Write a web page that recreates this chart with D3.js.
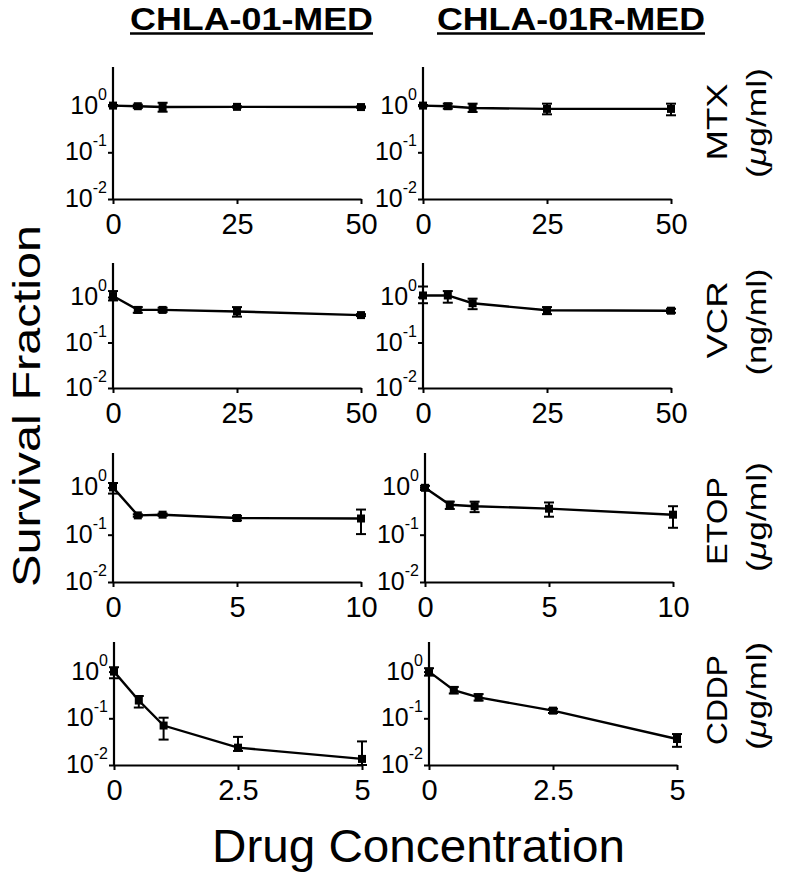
<!DOCTYPE html>
<html>
<head>
<meta charset="utf-8">
<script src="https://cdn.jsdelivr.net/npm/d3@7/dist/d3.min.js"></script>
<style>
  body { margin: 0; background: #fff; }
  text { font-family: "Liberation Sans", Arial, Helvetica, sans-serif; fill: #000; }
</style>
</head>
<body>
<svg id="chart" width="788" height="878"></svg>
<script>
// columns = cell lines, rows = drugs
const cellLines = ["CHLA-01-MED", "CHLA-01R-MED"];
const drugs = ["MTX", "VCR", "ETOP", "CDDP"];
const units = ["μg/ml", "ng/ml", "μg/ml", "μg/ml"];

// doses and x tick labels per drug
const mtxDose = [0, 5, 10, 25, 50];
const vcrDose = [0, 5, 10, 25, 50];
const etopDose = [0, 1, 2, 5, 10];
const cddpDose = [0, 0.5, 1, 2.5, 5];
const mtxTicks = [0, 25, 50];
const vcrTicks = [0, 25, 50];
const etopTicks = [0, 5, 10];
const cddpTicks = [0, 2.5, 5];
const yTicks = [1, 0.1, 0.01];

// survival fraction (mean, lower and upper end of error bar)
const mtxParent = [1.0, 0.97, 0.93, 0.94, 0.93];
const mtxParentLo = [0.97, 0.89, 0.74, 0.91, 0.9];
const mtxParentHi = [1.03, 1.05, 1.15, 0.97, 0.96];
const mtxRes = [1.0, 0.97, 0.89, 0.85, 0.85];
const mtxResLo = [0.97, 0.86, 0.73, 0.65, 0.62];
const mtxResHi = [1.03, 1.1, 1.1, 1.1, 1.1];

const vcrParent = [1.05, 0.52, 0.52, 0.48, 0.4];
const vcrParentLo = [0.84, 0.45, 0.47, 0.37, 0.38];
const vcrParentHi = [1.35, 0.6, 0.58, 0.6, 0.42];
const vcrRes = [1.08, 1.08, 0.73, 0.51, 0.5];
const vcrResLo = [0.73, 0.75, 0.54, 0.42, 0.45];
const vcrResHi = [1.7, 1.35, 0.92, 0.6, 0.55];

const etopParent = [1.0, 0.256, 0.265, 0.225, 0.22];
const etopParentLo = [0.74, 0.24, 0.25, 0.2, 0.103];
const etopParentHi = [1.24, 0.27, 0.28, 0.25, 0.34];
const etopRes = [0.98, 0.43, 0.4, 0.355, 0.265];
const etopResLo = [0.88, 0.35, 0.3, 0.24, 0.14];
const etopResHi = [1.08, 0.5, 0.5, 0.48, 0.4];

const cddpParent = [1.0, 0.24, 0.07, 0.0235, 0.0135];
const cddpParentLo = [0.72, 0.17, 0.035, 0.02, 0.01];
const cddpParentHi = [1.24, 0.3, 0.103, 0.04, 0.032];
const cddpRes = [1.0, 0.4, 0.28, 0.146, 0.036];
const cddpResLo = [0.82, 0.34, 0.24, 0.13, 0.0245];
const cddpResHi = [1.18, 0.47, 0.33, 0.16, 0.046];

// layout
const rowAxisY = [199, 388, 582, 765];
const rowTop = [67, 263, 453, 642];
const rowDecade = [46.7, 45.5, 47.3, 46.7];
const colX0 = [[113, 423], [113, 423], [113, 425], [114, 429]];
const plotW = 248;
const drugLabelY = [122, 320, 521, 700];
const drugLabelLen = [77, 77, 88, 90];
const unitLabelY = [123, 322, 517, 696];
const unitLabelLen = [110, 107, 110, 108];

const panels = [
  {dose: mtxDose, ticks: mtxTicks, series: [[mtxParent, mtxParentLo, mtxParentHi], [mtxRes, mtxResLo, mtxResHi]]},
  {dose: vcrDose, ticks: vcrTicks, series: [[vcrParent, vcrParentLo, vcrParentHi], [vcrRes, vcrResLo, vcrResHi]]},
  {dose: etopDose, ticks: etopTicks, series: [[etopParent, etopParentLo, etopParentHi], [etopRes, etopResLo, etopResHi]]},
  {dose: cddpDose, ticks: cddpTicks, series: [[cddpParent, cddpParentLo, cddpParentHi], [cddpRes, cddpResLo, cddpResHi]]}
];

const svg = d3.select("#chart");

function drawPanel(r, c) {
  const p = panels[r];
  const [mean, lo, hi] = p.series[c];
  const axisY = rowAxisY[r];
  const x0 = colX0[r][c];

  const x = d3.scaleLinear()
      .domain([0, d3.max(p.ticks)])
      .range([x0, x0 + plotW]);
  const y = d3.scaleLog()
      .domain([0.01, 1])
      .range([axisY, axisY - 2 * rowDecade[r]]);

  const g = svg.append("g");

  // y axis
  const yAxis = g.append("g")
      .attr("transform", "translate(" + x0 + ",0)")
      .call(d3.axisLeft(y).tickValues(yTicks).tickSize(5).tickSizeOuter(0).tickFormat(""));
  yAxis.select(".domain").remove();
  yAxis.selectAll(".tick line").attr("stroke-width", 2);
  g.append("line")
      .attr("x1", x0).attr("x2", x0)
      .attr("y1", rowTop[r]).attr("y2", axisY + 1)
      .attr("stroke", "#000").attr("stroke-width", 2.2);

  yTicks.forEach(v => {
    const t = g.append("text")
        .attr("x", x0 - 6)
        .attr("y", y(v) + 8)
        .attr("text-anchor", "end")
        .attr("font-size", 25);
    t.append("tspan").text("10");
    t.append("tspan")
        .attr("dy", -14)
        .attr("font-size", 16)
        .text(Math.round(Math.log10(v)));
  });

  // x axis
  const xAxis = g.append("g")
      .attr("transform", "translate(0," + axisY + ")")
      .call(d3.axisBottom(x).tickValues(p.ticks).tickSize(5).tickSizeOuter(0)
          .tickPadding(9).tickFormat(d3.format("~g")));
  xAxis.select(".domain").attr("stroke-width", 2.2);
  xAxis.selectAll(".tick line").attr("stroke-width", 2);
  xAxis.selectAll(".tick text")
      .attr("font-size", 29)
      .attr("font-family", "Liberation Sans, Arial, sans-serif")
      .attr("fill", "#000");

  const pts = p.dose.map((d, i) => ({d: d, m: mean[i], lo: lo[i], hi: hi[i]}));

  // error bars
  const eb = g.selectAll(".eb").data(pts).enter().append("g");
  eb.append("line")
      .attr("x1", d => x(d.d)).attr("x2", d => x(d.d))
      .attr("y1", d => y(d.lo)).attr("y2", d => y(d.hi))
      .attr("stroke", "#000").attr("stroke-width", 2);
  eb.append("line")
      .attr("x1", d => x(d.d) - 5).attr("x2", d => x(d.d) + 5)
      .attr("y1", d => y(d.hi)).attr("y2", d => y(d.hi))
      .attr("stroke", "#000").attr("stroke-width", 2);
  eb.append("line")
      .attr("x1", d => x(d.d) - 5).attr("x2", d => x(d.d) + 5)
      .attr("y1", d => y(d.lo)).attr("y2", d => y(d.lo))
      .attr("stroke", "#000").attr("stroke-width", 2);

  // connecting line
  g.append("path")
      .datum(pts)
      .attr("fill", "none")
      .attr("stroke", "#000")
      .attr("stroke-width", 2.4)
      .attr("d", d3.line().x(d => x(d.d)).y(d => y(d.m)));

  // square markers
  g.selectAll(".pt").data(pts).enter().append("rect")
      .attr("x", d => x(d.d) - 4)
      .attr("y", d => y(d.m) - 4)
      .attr("width", 8)
      .attr("height", 8)
      .attr("fill", "#000");
}

for (let r = 0; r < drugs.length; r++) {
  for (let c = 0; c < cellLines.length; c++) drawPanel(r, c);

  // drug name and unit on the right
  svg.append("text")
      .attr("transform", "translate(727," + drugLabelY[r] + ") rotate(-90)")
      .attr("text-anchor", "middle")
      .attr("font-size", 30)
      .attr("textLength", drugLabelLen[r])
      .attr("lengthAdjust", "spacingAndGlyphs")
      .text(drugs[r]);
  const u = svg.append("text")
      .attr("transform", "translate(766," + unitLabelY[r] + ") rotate(-90)")
      .attr("text-anchor", "middle")
      .attr("font-size", 27)
      .attr("textLength", unitLabelLen[r])
      .attr("lengthAdjust", "spacingAndGlyphs");
  u.append("tspan").text("(");
  if (units[r][0] === "μ") {
    u.append("tspan").attr("font-style", "italic").text("μ");
    u.append("tspan").text(units[r].slice(1) + ")");
  } else {
    u.append("tspan").text(units[r] + ")");
  }
}

// column titles, bold and underlined
const titleX = [[130, 373], [437, 705]];
cellLines.forEach((name, c) => {
  svg.append("text")
      .attr("x", titleX[c][0])
      .attr("y", 30)
      .attr("font-size", 32)
      .attr("font-weight", "bold")
      .attr("textLength", titleX[c][1] - titleX[c][0])
      .attr("lengthAdjust", "spacingAndGlyphs")
      .text(name);
  svg.append("line")
      .attr("x1", titleX[c][0]).attr("x2", titleX[c][1])
      .attr("y1", 33.5).attr("y2", 33.5)
      .attr("stroke", "#000").attr("stroke-width", 2.5);
});

// shared axis titles
svg.append("text")
    .attr("transform", "translate(40,406) rotate(-90)")
    .attr("text-anchor", "middle")
    .attr("font-size", 39)
    .attr("textLength", 362)
    .attr("lengthAdjust", "spacingAndGlyphs")
    .text("Survival Fraction");

svg.append("text")
    .attr("x", 212)
    .attr("y", 862)
    .attr("font-size", 46)
    .attr("textLength", 413)
    .attr("lengthAdjust", "spacingAndGlyphs")
    .text("Drug Concentration");
</script>
</body>
</html>
